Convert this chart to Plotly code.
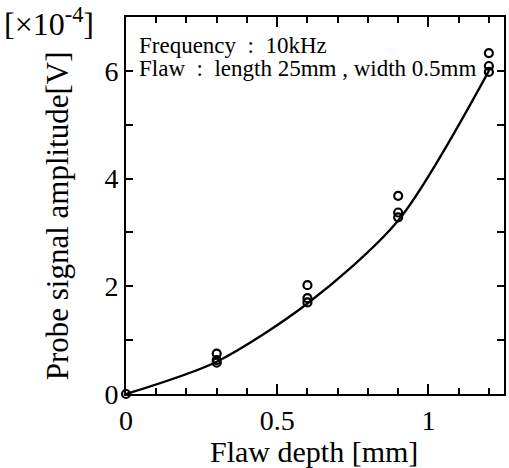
import plotly.graph_objects as go

# Fitted curve (flaw depth [mm] vs amplitude [x1e-4 V])
depth_curve = [0.0, 0.3, 0.6, 0.9, 1.2]
amp_curve = [0.0, 0.6, 1.68, 3.22, 6.0]

# Measured points
depth_meas = [0.0, 0.3, 0.3, 0.3, 0.6, 0.6, 0.6, 0.9, 0.9, 0.9, 1.2, 1.2, 1.2]
amp_meas = [0.0, 0.75, 0.63, 0.58, 2.02, 1.78, 1.70, 3.68, 3.37, 3.28, 6.33, 6.09, 5.98]

x_ticks = [0, 0.5, 1]
x_labels = ["0", "0.5", "1"]
y_ticks = [0, 2, 4, 6]

W, H = 509, 468
L, R, T, B = 126, 3, 17, 74
pw, ph = W - L - R, H - T - B

FONT = "Liberation Serif, Times New Roman, serif"

fig = go.Figure()
fig.add_trace(go.Scatter(
    x=depth_curve, y=amp_curve, mode="lines",
    line=dict(color="black", width=2.3, shape="spline", smoothing=0.8),
    showlegend=False, hoverinfo="skip", cliponaxis=False))
fig.add_trace(go.Scatter(
    x=depth_meas, y=amp_meas, mode="markers",
    marker=dict(symbol="circle-open", size=8, color="black", line=dict(width=2.2)),
    showlegend=False, cliponaxis=False))

axis_common = dict(
    showgrid=False, zeroline=False, showline=True, linecolor="black", linewidth=2,
    mirror="allticks", ticks="inside", tickcolor="black", tickwidth=1.5,
    tickfont=dict(family=FONT, size=28, color="black"),
)

fig.update_xaxes(
    range=[0, 1.25], tickvals=x_ticks, ticktext=x_labels,
    ticklen=10,
    minor=dict(dtick=0.1, ticks="inside", ticklen=6, tickcolor="black", tickwidth=1.5),
    **axis_common)
fig.update_yaxes(
    range=[0, 7], tickvals=y_ticks, ticklen=7,
    minor=dict(dtick=1, ticks="inside", ticklen=7, tickcolor="black", tickwidth=1.5),
    **axis_common)

def px_x(p):
    return (p - L) / pw

def px_y(p):
    return (H - B - p) / ph

annotations = [
    dict(text="Flaw depth [mm]", x=px_x(315), y=px_y(451), xanchor="center", yanchor="middle",
         font=dict(family=FONT, size=30, color="black")),
    dict(text="Probe signal amplitude[V]", x=px_x(57), y=px_y(216), textangle=-90,
         xanchor="center", yanchor="middle",
         font=dict(family=FONT, size=31, color="black")),
    dict(text="[×10<sup>-4</sup>]", x=px_x(1), y=px_y(22), xanchor="left", yanchor="middle",
         font=dict(family=FONT, size=32, color="black")),
    dict(text="Frequency\u00a0\u00a0:\u00a0\u00a010kHz", x=px_x(137), y=px_y(45), xanchor="left",
         yanchor="middle", font=dict(family=FONT, size=23, color="black")),
    dict(text="Flaw\u00a0\u00a0:\u00a0\u00a0length 25mm\u00a0,\u00a0width 0.5mm", x=px_x(137), y=px_y(68),
         xanchor="left", yanchor="middle", font=dict(family=FONT, size=23, color="black")),
]
for a in annotations:
    a.update(xref="paper", yref="paper", showarrow=False)

fig.update_layout(
    width=W, height=H, margin=dict(l=L, r=R, t=T, b=B),
    paper_bgcolor="white", plot_bgcolor="white",
    annotations=annotations,
)

fig.write_html("out.html")
